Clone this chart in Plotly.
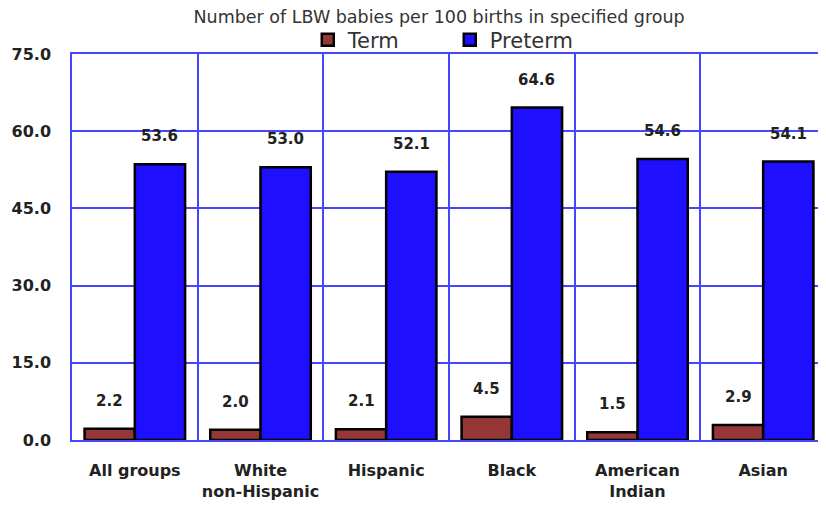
import plotly.graph_objects as go

categories = ["All groups", "White<br>non-Hispanic", "Hispanic", "Black", "American<br>Indian", "Asian"]
term = [2.2, 2.0, 2.1, 4.5, 1.5, 2.9]
preterm = [53.6, 53.0, 52.1, 64.6, 54.6, 54.1]
yticks = [0, 15, 30, 45, 60, 75]
ytick_labels = ["0.0", "15.0", "30.0", "45.0", "60.0", "75.0"]

TERM_C = "#953735"
PRE_C = "#1E0FFF"
GRID_C = "#4646FF"
FONT = "'DejaVu Sans', sans-serif"

fig = go.Figure()
fig.add_trace(go.Bar(name="Term", x=categories, y=term,
                     marker=dict(color=TERM_C, line=dict(color="black", width=2.5))))
fig.add_trace(go.Bar(name="Preterm", x=categories, y=preterm,
                     marker=dict(color=PRE_C, line=dict(color="black", width=2.5))))

annotations = []
lab_font = dict(family=FONT, size=15, color="#222222", weight="bold")
for c, t, p in zip(categories, term, preterm):
    annotations.append(dict(x=c, y=t, text=f"{t:.1f}", showarrow=False, xshift=-25,
                            yanchor="bottom", yshift=17, font=lab_font))
    annotations.append(dict(x=c, y=p, text=f"{p:.1f}", showarrow=False, xshift=25,
                            yanchor="bottom", yshift=17, font=lab_font))

# page body has an 8px margin, so the figure is offset by 8px
fig.update_layout(
    width=818, height=499,
    margin=dict(l=64, r=0, t=46, b=67, autoexpand=False),
    paper_bgcolor="white", plot_bgcolor="white",
    barmode="group", bargap=0.2, bargroupgap=0,
    title=dict(text="Number of LBW babies per 100 births in specified group",
               x=0.527, xanchor="center", y=0.982, yanchor="middle",
               font=dict(family=FONT, size=17.5, color="#333333")),
    legend=dict(orientation="h", x=0.501, xanchor="center", y=1.036, yanchor="middle",
                font=dict(family=FONT, size=21, color="#333333"),
                bgcolor="rgba(0,0,0,0)", entrywidth=97, itemwidth=30),
    annotations=annotations,
    showlegend=True,
)
fig.update_xaxes(tickson="boundaries", showgrid=True, gridcolor=GRID_C, gridwidth=1.5,
                 showline=True, linecolor=GRID_C, linewidth=1.5, mirror=True,
                 ticks="", ticklabelstandoff=15,
                 tickfont=dict(family=FONT, size=16, color="#222222", weight="bold"))
fig.update_yaxes(range=[0, 75], tickvals=yticks, ticktext=ytick_labels,
                 showgrid=True, gridcolor=GRID_C, gridwidth=1.5,
                 showline=True, linecolor=GRID_C, linewidth=1.5, mirror=False,
                 zeroline=False, ticks="", ticklabelstandoff=16,
                 tickfont=dict(family=FONT, size=16, color="#222222", weight="bold"))

fig.write_html("out.html")
